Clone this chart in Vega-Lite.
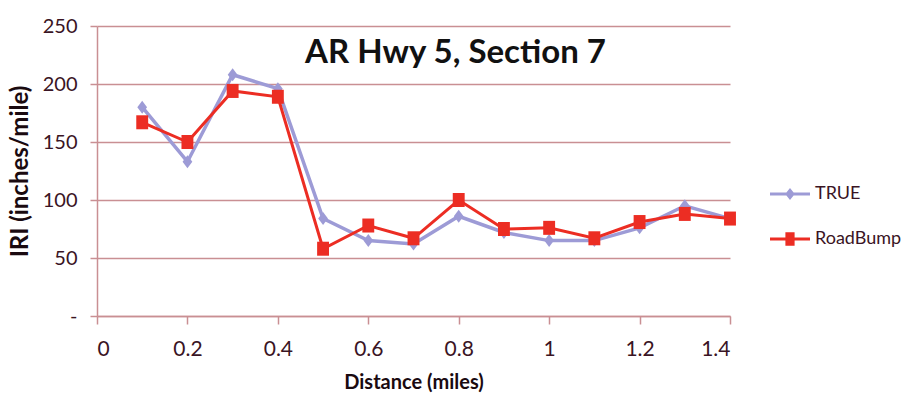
{
  "$schema": "https://vega.github.io/schema/vega-lite/v6.json",
  "width": 633,
  "height": 290,
  "autosize": "none",
  "padding": {"left": 97, "top": 26, "right": 176, "bottom": 86},
  "background": "white",
  "title": {
    "text": "AR Hwy 5, Section 7",
    "font": "Lato",
    "fontWeight": "bold",
    "fontSize": 33,
    "color": "#111111",
    "anchor": "middle",
    "baseline": "alphabetic",
    "offset": 0,
    "dx": 42,
    "dy": 80
  },
  "data": {
    "values": [
      {"distance": 0.1, "iri": 180, "series": "TRUE"},
      {"distance": 0.2, "iri": 133, "series": "TRUE"},
      {"distance": 0.3, "iri": 208, "series": "TRUE"},
      {"distance": 0.4, "iri": 196, "series": "TRUE"},
      {"distance": 0.5, "iri": 84, "series": "TRUE"},
      {"distance": 0.6, "iri": 65, "series": "TRUE"},
      {"distance": 0.7, "iri": 62, "series": "TRUE"},
      {"distance": 0.8, "iri": 86, "series": "TRUE"},
      {"distance": 0.9, "iri": 72, "series": "TRUE"},
      {"distance": 1.0, "iri": 65, "series": "TRUE"},
      {"distance": 1.1, "iri": 65, "series": "TRUE"},
      {"distance": 1.2, "iri": 76, "series": "TRUE"},
      {"distance": 1.3, "iri": 95, "series": "TRUE"},
      {"distance": 1.4, "iri": 84, "series": "TRUE"},
      {"distance": 0.1, "iri": 167, "series": "RoadBump"},
      {"distance": 0.2, "iri": 150, "series": "RoadBump"},
      {"distance": 0.3, "iri": 194, "series": "RoadBump"},
      {"distance": 0.4, "iri": 189, "series": "RoadBump"},
      {"distance": 0.5, "iri": 58, "series": "RoadBump"},
      {"distance": 0.6, "iri": 78, "series": "RoadBump"},
      {"distance": 0.7, "iri": 67, "series": "RoadBump"},
      {"distance": 0.8, "iri": 100, "series": "RoadBump"},
      {"distance": 0.9, "iri": 75, "series": "RoadBump"},
      {"distance": 1.0, "iri": 76, "series": "RoadBump"},
      {"distance": 1.1, "iri": 67, "series": "RoadBump"},
      {"distance": 1.2, "iri": 81, "series": "RoadBump"},
      {"distance": 1.3, "iri": 88, "series": "RoadBump"},
      {"distance": 1.4, "iri": 84, "series": "RoadBump"}
    ]
  },
  "encoding": {
    "x": {
      "field": "distance",
      "type": "quantitative",
      "scale": {"domain": [0, 1.4], "nice": false, "zero": false},
      "axis": {
        "title": "Distance (miles)",
        "values": [0, 0.2, 0.4, 0.6, 0.8, 1, 1.2, 1.4],
        "format": "~g",
        "grid": false,
        "domainColor": "#c98f93",
        "domainWidth": 1.5,
        "tickColor": "#c98f93",
        "tickWidth": 1.5,
        "tickSize": 8,
        "labelPadding": 14,
        "labelFont": "Lato",
        "labelFontSize": 21,
        "labelColor": "#3a1424",
        "titleFont": "Lato",
        "titleFontWeight": "bold",
        "titleFontSize": 20,
        "titleColor": "#1a0a10",
        "titlePadding": 13
      }
    },
    "y": {
      "field": "iri",
      "type": "quantitative",
      "scale": {"domain": [0, 250], "nice": false},
      "axis": {
        "title": "IRI (inches/mile)",
        "values": [0, 50, 100, 150, 200, 250],
        "labelExpr": "datum.value === 0 ? '-' : datum.label",
        "grid": true,
        "gridColor": "#c98f93",
        "gridWidth": 1.5,
        "domainColor": "#c98f93",
        "domainWidth": 1.5,
        "tickColor": "#c98f93",
        "tickWidth": 1.5,
        "tickSize": 7,
        "labelPadding": 13,
        "labelFont": "Lato",
        "labelFontSize": 20,
        "labelColor": "#3a1424",
        "titleFont": "Lato",
        "titleFontWeight": "bold",
        "titleFontSize": 24,
        "titleColor": "#1a0a10",
        "titlePadding": 10
      }
    },
    "color": {
      "field": "series",
      "type": "nominal",
      "scale": {"domain": ["TRUE", "RoadBump"], "range": ["#9d9bd6", "#ec2d23"]},
      "legend": {
        "title": null,
        "orient": "none",
        "legendX": 673,
        "legendY": 148,
        "symbolSize": 1600,
        "labelOffset": 5,
        "rowPadding": 16,
        "labelFont": "Lato",
        "labelFontSize": 18,
        "labelColor": "#3a1424",
        "labelLimit": 300,
        "encode": {
          "symbols": {
            "update": {
              "shape": {"signal": "datum.value === 'TRUE' ? 'M-1,-0.08L-0.18,-0.08L0,-0.3L0.18,-0.08L1,-0.08L1,0.08L0.18,0.08L0,0.3L-0.18,0.08L-1,0.08Z' : 'M-1,-0.07L-0.23,-0.07L-0.23,-0.34L0.23,-0.34L0.23,-0.07L1,-0.07L1,0.07L0.23,0.07L0.23,0.34L-0.23,0.34L-0.23,0.07L-1,0.07Z'"},
              "fill": {"signal": "datum.value === 'TRUE' ? '#9d9bd6' : '#ec2d23'"},
              "stroke": {"value": "transparent"},
              "strokeWidth": {"value": 0},
              "opacity": {"value": 1}
            }
          }
        }
      }
    }
  },
  "layer": [
    {
      "transform": [{"filter": "datum.series === 'TRUE'"}],
      "mark": {"type": "line", "strokeWidth": 3.5},
      "encoding": {}
    },
    {
      "transform": [{"filter": "datum.series === 'TRUE'"}],
      "mark": {"type": "point", "filled": true, "opacity": 1, "size": 169, "shape": "M0,-1L0.75,0L0,1L-0.75,0Z"},
      "encoding": {}
    },
    {
      "transform": [{"filter": "datum.series === 'RoadBump'"}],
      "mark": {"type": "line", "strokeWidth": 3},
      "encoding": {}
    },
    {
      "transform": [{"filter": "datum.series === 'RoadBump'"}],
      "mark": {"type": "point", "filled": true, "opacity": 1, "size": 196, "shape": "M-0.85,-1L0.85,-1L0.85,1L-0.85,1Z"},
      "encoding": {}
    }
  ],
  "config": {
    "view": {"stroke": null}
  }
}
